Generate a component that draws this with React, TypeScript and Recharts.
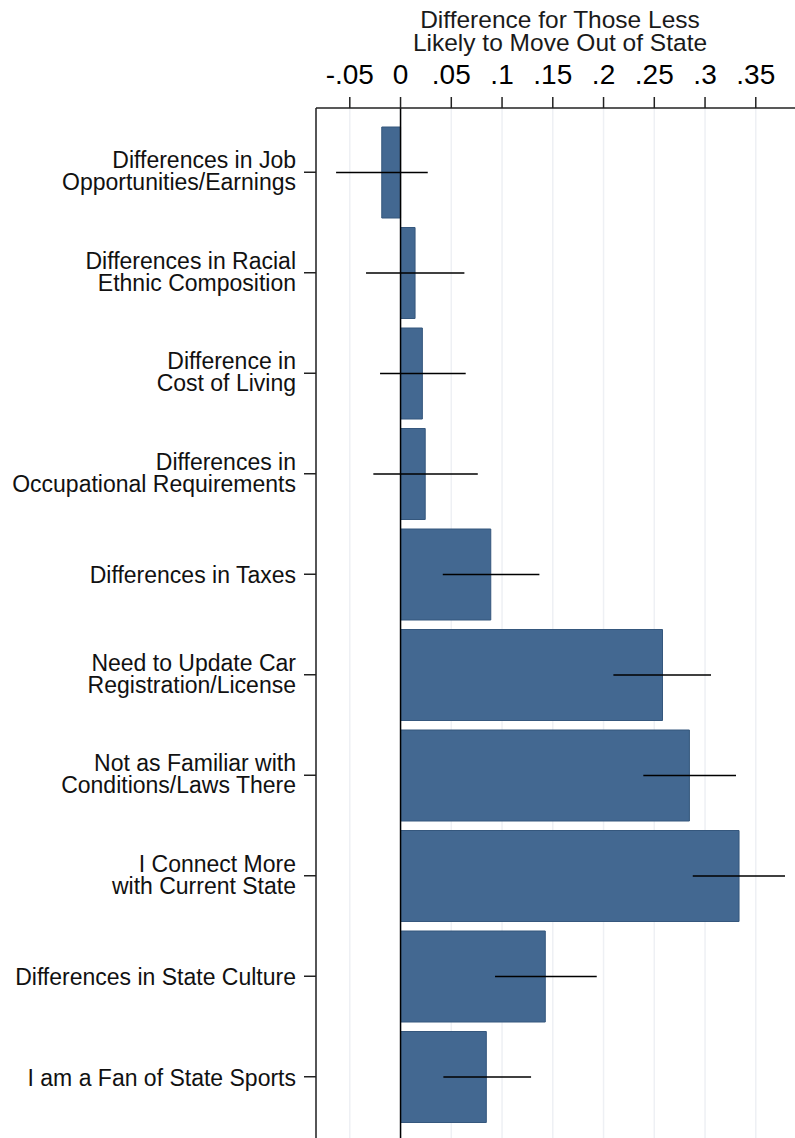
import React from "react";
import {
  Bar,
  BarChart,
  CartesianGrid,
  ErrorBar,
  Label,
  ReferenceLine,
  XAxis,
  YAxis,
} from "recharts";

const FONT = '"Liberation Sans", Arial, sans-serif';
const BAR = "#436891";
const GRID = "#eef0f4";

const categories = [
  "Differences in Job\nOpportunities/Earnings",
  "Differences in Racial\nEthnic Composition",
  "Difference in\nCost of Living",
  "Differences in\nOccupational Requirements",
  "Differences in Taxes",
  "Need to Update Car\nRegistration/License",
  "Not as Familiar with\nConditions/Laws There",
  "I Connect More\nwith Current State",
  "Differences in State Culture",
  "I am a Fan of State Sports",
];
const estimates = [-0.0185, 0.0143, 0.0215, 0.0243, 0.0889, 0.2581, 0.2846, 0.3335, 0.1426, 0.0845];
const ciLow = [-0.0635, -0.034, -0.0202, -0.0268, 0.0416, 0.2097, 0.2392, 0.2879, 0.0931, 0.0422];
const ciHigh = [0.0268, 0.0629, 0.0642, 0.0761, 0.1368, 0.3059, 0.3305, 0.3788, 0.1933, 0.1286];
const xTicks = [-0.05, 0, 0.05, 0.1, 0.15, 0.2, 0.25, 0.3, 0.35];
const titleLines = ["Difference for Those Less", "Likely to Move Out of State"];

const rows = categories.map((name, i) => ({
  name,
  value: estimates[i],
  err: [estimates[i] - ciLow[i], ciHigh[i] - estimates[i]],
}));

const fmtTick = (v: number) => {
  if (v === 0) return "0";
  return (v < 0 ? "-" : "") + String(Math.abs(v)).replace(/^0/, "");
};

const XTick = ({ x, y, payload }: any) => (
  <text x={x} y={y} textAnchor="middle" fontSize={28} fontFamily={FONT} fill="#000">
    {fmtTick(payload.value)}
  </text>
);

const CatTick = ({ x, y, payload }: any) => {
  const lines = String(payload.value).split("\n");
  const start = lines.length === 1 ? 9 : -4;
  return (
    <text x={x} y={y} textAnchor="end" fontSize={23} fontFamily={FONT} fill="#111">
      {lines.map((l, i) => (
        <tspan key={i} x={x} y={y + start + i * 22}>
          {l}
        </tspan>
      ))}
    </text>
  );
};

const Title = ({ viewBox }: any) => {
  const cx = viewBox.x + viewBox.width / 2;
  return (
    <text textAnchor="middle" fontSize={24.5} fontFamily={FONT} fill="#1a1a1a">
      {titleLines.map((l, i) => (
        <tspan key={i} x={cx} y={28 + i * 23}>
          {l}
        </tspan>
      ))}
    </text>
  );
};

export default function App() {
  return (
    <div
      style={{
        position: "absolute",
        left: 0,
        top: 0,
        width: 795,
        height: 1138,
        overflow: "hidden",
        background: "#fff",
      }}
    >
      <BarChart
        width={804}
        height={1138}
        data={rows}
        layout="vertical"
        margin={{ top: 0, right: 0, bottom: 0, left: 0 }}
        barSize={91}
      >
        <CartesianGrid vertical horizontal={false} stroke={GRID} strokeWidth={1.5} />
        <XAxis
          type="number"
          orientation="top"
          domain={[-0.0833, 0.3975]}
          allowDataOverflow
          ticks={xTicks}
          height={108}
          tickSize={11}
          tickMargin={13}
          tick={<XTick />}
          axisLine={{ stroke: "#222", strokeWidth: 1.5 }}
          tickLine={{ stroke: "#222", strokeWidth: 1.5 }}
          interval={0}
        >
          <Label content={<Title />} />
        </XAxis>
        <YAxis
          type="category"
          dataKey="name"
          width={316}
          tickSize={12}
          tickMargin={8}
          tick={<CatTick />}
          padding={{ top: 14, bottom: 11 }}
          axisLine={{ stroke: "#222", strokeWidth: 1.5 }}
          tickLine={{ stroke: "#222", strokeWidth: 1.5 }}
          interval={0}
        />
        <Bar dataKey="value" fill={BAR} stroke="#35577d" strokeWidth={1} isAnimationActive={false}>
          <ErrorBar dataKey="err" direction="x" width={0} stroke="#000" strokeWidth={1.5} isAnimationActive={false} />
        </Bar>
        <ReferenceLine x={0} stroke="#000" strokeWidth={1.5} />
      </BarChart>
    </div>
  );
}
